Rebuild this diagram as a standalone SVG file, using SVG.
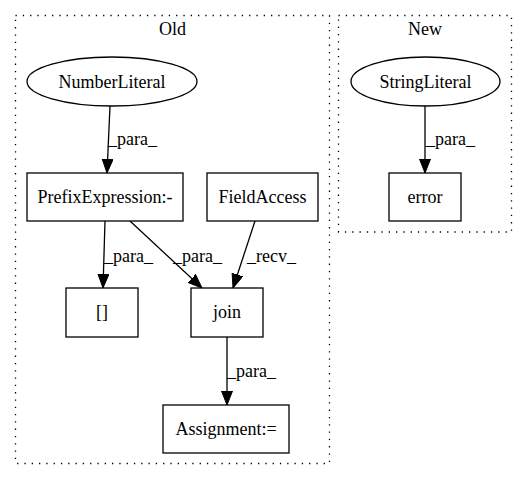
<svg xmlns="http://www.w3.org/2000/svg" width="527" height="480" viewBox="0 0 527 480">
<style>
text{font-family:"Liberation Serif","Times New Roman",serif;font-size:18px;fill:#000}
.c{text-anchor:middle}
.cl{fill:none;stroke:#000;stroke-width:1.3;stroke-dasharray:1.3,6}
.n{fill:#fff;stroke:#000;stroke-width:1.3}
.e{fill:none;stroke:#000;stroke-width:1.3}
</style>
<defs>
<marker id="ah" markerUnits="userSpaceOnUse" markerWidth="16" markerHeight="12" refX="14" refY="5.5" orient="auto" viewBox="0 0 16 12">
<polygon points="0,0 14,5.5 0,11" fill="#000" stroke="#000" stroke-width="1"/>
</marker>
</defs>
<rect width="527" height="480" fill="#fff"/>
<g id="cluster_old">
<rect class="cl" x="15.5" y="15.5" width="314" height="448"/>
<text class="c" x="172.5" y="35">Old</text>
</g>
<g id="cluster_new">
<rect class="cl" x="338.5" y="15.5" width="173" height="216.5"/>
<text class="c" x="425" y="35">New</text>
</g>
<g id="edges">
<path class="e" d="M110,106 L107,173" marker-end="url(#ah)"/>
<text x="108" y="145">_para_</text>
<path class="e" d="M105,221 L103,288" marker-end="url(#ah)"/>
<text x="104" y="262">_para_</text>
<path class="e" d="M130,221 L202,288" marker-end="url(#ah)"/>
<text x="173" y="262">_para_</text>
<path class="e" d="M255,221 L233,288" marker-end="url(#ah)"/>
<text x="247" y="262">_recv_</text>
<path class="e" d="M227,337 L227,405" marker-end="url(#ah)"/>
<text x="227" y="377">_para_</text>
<path class="e" d="M425,106 L425,173" marker-end="url(#ah)"/>
<text x="426" y="145">_para_</text>
</g>
<g id="NumberLiteral">
<ellipse class="n" cx="112" cy="81.5" rx="85" ry="24.5"/>
<text class="c" x="112" y="88">NumberLiteral</text>
</g>
<g id="PrefixExpression">
<rect class="n" x="27" y="173" width="156" height="48"/>
<text class="c" x="105" y="203">PrefixExpression:-</text>
</g>
<g id="FieldAccess">
<rect class="n" x="207" y="173" width="111" height="48"/>
<text class="c" x="262.5" y="203">FieldAccess</text>
</g>
<g id="brackets">
<rect class="n" x="66" y="288" width="72" height="49"/>
<text class="c" x="102" y="318">[]</text>
</g>
<g id="join">
<rect class="n" x="191" y="288" width="72" height="49"/>
<text class="c" x="227" y="318">join</text>
</g>
<g id="Assignment">
<rect class="n" x="163" y="405" width="126" height="48"/>
<text class="c" x="226" y="435">Assignment:=</text>
</g>
<g id="StringLiteral">
<ellipse class="n" cx="425.5" cy="81.5" rx="74.5" ry="24.5"/>
<text class="c" x="425.5" y="88">StringLiteral</text>
</g>
<g id="error">
<rect class="n" x="389" y="173" width="72" height="48"/>
<text class="c" x="425" y="203">error</text>
</g>
</svg>
